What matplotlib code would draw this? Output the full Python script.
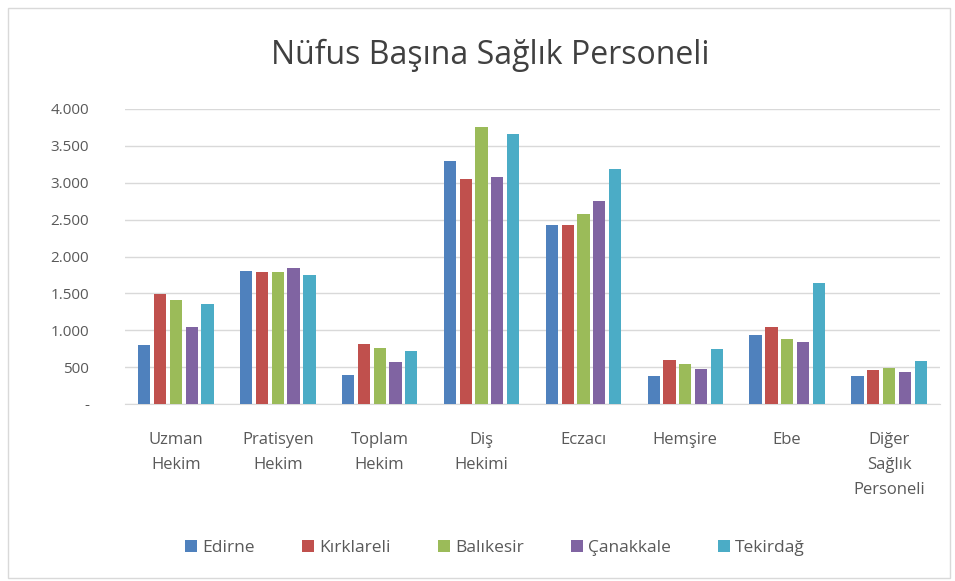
import matplotlib
matplotlib.use("Agg")
import matplotlib.pyplot as plt
from matplotlib.patches import Rectangle
import numpy as np

plt.rcParams['font.family'] = ['Open Sans', 'DejaVu Sans']

categories = ["Uzman\nHekim", "Pratisyen\nHekim", "Toplam\nHekim", "Diş\nHekimi",
              "Eczacı", "Hemşire", "Ebe", "Diğer\nSağlık\nPersoneli"]
provinces = ["Edirne", "Kırklareli", "Balıkesir", "Çanakkale", "Tekirdağ"]

edirne     = [800, 1805, 400, 3295, 2425, 380, 935, 380]
kirklareli = [1490, 1785, 810, 3045, 2425, 595, 1050, 460]
balikesir  = [1410, 1785, 765, 3750, 2570, 540, 875, 485]
canakkale  = [1050, 1840, 575, 3075, 2755, 470, 845, 430]
tekirdag   = [1350, 1745, 725, 3655, 3185, 740, 1635, 585]

series = [edirne, kirklareli, balikesir, canakkale, tekirdag]
colors = ["#4F81BD", "#C0504D", "#9BBB59", "#8064A2", "#4BACC6"]

yticks = [0, 500, 1000, 1500, 2000, 2500, 3000, 3500, 4000]
ytick_labels = ["-", "500", "1.000", "1.500", "2.000", "2.500", "3.000", "3.500", "4.000"]

fig = plt.figure(figsize=(9.55, 5.81), dpi=100)
fig.patch.set_facecolor("white")
fig.add_artist(Rectangle((8 / 955, 3 / 581), 942 / 955, 570 / 581, transform=fig.transFigure,
                         fill=False, edgecolor="#D9D9D9", linewidth=1.0))

ax = fig.add_axes([125 / 955, 1 - 404 / 581, 815 / 955, 295 / 581])
x = np.arange(len(categories))
pitch = 0.155
width = 0.12
for i, (vals, c, name) in enumerate(zip(series, colors, provinces)):
    ax.bar(x + (i - 2) * pitch, vals, width=width, color=c, label=name, zorder=3)

ax.set_xlim(-0.5, len(categories) - 0.5)
ax.set_ylim(0, 4000)
ax.set_yticks(yticks)
ax.set_yticklabels(ytick_labels)
ax.set_xticks(x)
ax.set_xticklabels(categories, linespacing=1.75, va="top", fontsize=12)
ax.grid(axis="y", color="#D9D9D9", linewidth=1.0, zorder=0)
for s in ["top", "right", "left"]:
    ax.spines[s].set_visible(False)
ax.spines["bottom"].set_color("#D9D9D9")
ax.tick_params(axis="both", length=0, colors="#595959", labelsize=11)
ax.tick_params(axis="x", pad=20, labelsize=12)
ax.tick_params(axis="y", pad=26)
for lbl in ax.get_yticklabels():
    lbl.set_horizontalalignment("right")

fig.text(490 / 955, 1 - 55 / 581, "Nüfus Başına Sağlık Personeli", ha="center", va="center",
         fontsize=23, color="#404040")

fig.legend(loc="center", bbox_to_anchor=(495 / 955, 1 - 548 / 581), ncol=5, frameon=False,
           fontsize=12.5, handlelength=0.7, handleheight=0.7, handletextpad=0.3, columnspacing=2.7,
           labelcolor="#595959")

fig.savefig("out.png", dpi=100, facecolor="white")
